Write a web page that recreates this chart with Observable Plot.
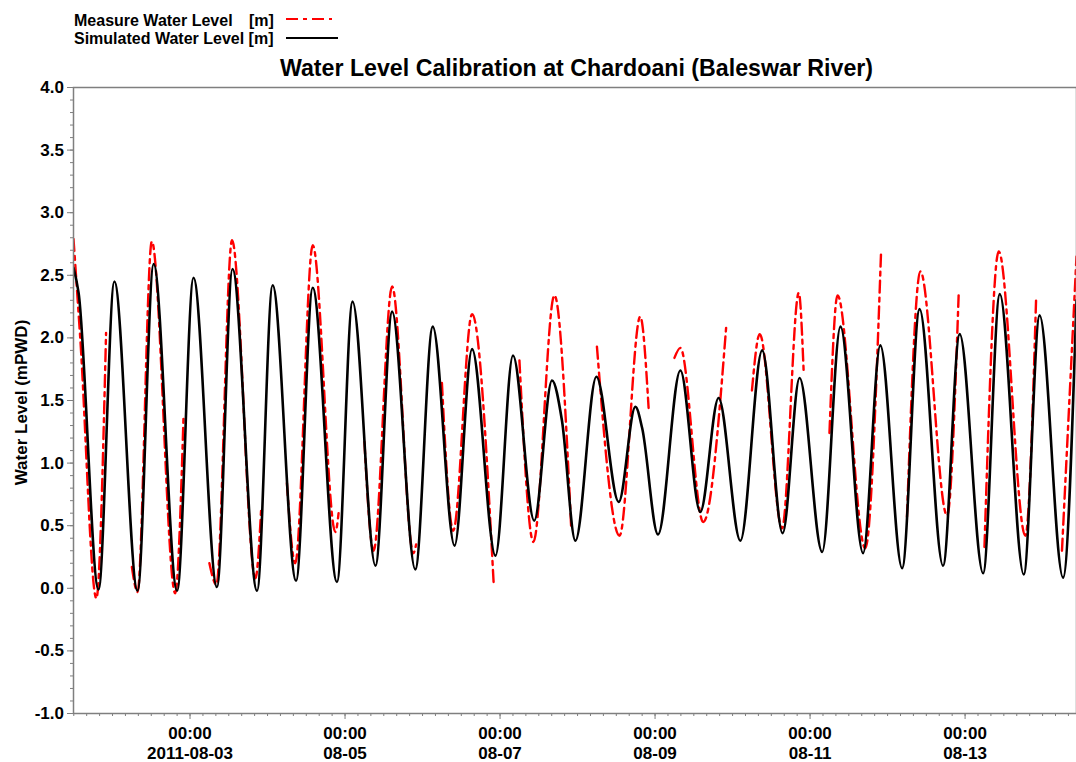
<!DOCTYPE html>
<html>
<head>
<meta charset="utf-8">
<script src="https://cdn.jsdelivr.net/npm/d3@7"></script>
<script src="https://cdn.jsdelivr.net/npm/@observablehq/plot@0.6"></script>
<style>
  html, body { margin: 0; padding: 0; background: #fff; }
  #chart { position: relative; width: 1076px; height: 762px; font-family: Arial, "Liberation Sans", Helvetica, sans-serif; }
  #header { display: block; }
  #header text { font-family: Arial, "Liberation Sans", Helvetica, sans-serif; font-weight: bold; fill: #000; }
  #plot svg { display: block; overflow: visible; }
</style>
</head>
<body>
<div id="chart">
  <svg id="header" width="1076" height="83">
    <text x="74" y="25.5" font-size="16">Measure Water Level</text>
    <text x="249" y="25.5" font-size="16">[m]</text>
    <line x1="286" x2="332" y1="19" y2="19" stroke="#ff0000" stroke-width="2.2" stroke-dasharray="12,5,4,5"></line>
    <text x="74" y="44.3" font-size="16">Simulated Water Level [m]</text>
    <line x1="286" x2="338" y1="38" y2="38" stroke="#000" stroke-width="2.2"></line>
    <text x="576.5" y="76" font-size="23.2" text-anchor="middle">Water Level Calibration at Chardoani (Baleswar River)</text>
  </svg>
  <div id="plot"></div>
</div>
<script>
// Simulated water level (m PWD): high and low waters of the model run
const simTimes = [
  "2011-08-01T11:55", "2011-08-01T13:30", "2011-08-01T19:40", "2011-08-02T00:35",
  "2011-08-02T07:45", "2011-08-02T12:45", "2011-08-02T20:00", "2011-08-03T01:05",
  "2011-08-03T08:20", "2011-08-03T13:10", "2011-08-03T20:45", "2011-08-04T01:35",
  "2011-08-04T08:50", "2011-08-04T14:00", "2011-08-04T21:30", "2011-08-05T02:20",
  "2011-08-05T09:25", "2011-08-05T14:35", "2011-08-05T21:45", "2011-08-06T03:10",
  "2011-08-06T09:55", "2011-08-06T15:20", "2011-08-06T22:35", "2011-08-07T04:00",
  "2011-08-07T10:35", "2011-08-07T16:05", "2011-08-07T19:10", "2011-08-07T23:20",
  "2011-08-08T05:50", "2011-08-08T12:45", "2011-08-08T17:55", "2011-08-08T20:00",
  "2011-08-09T00:55", "2011-08-09T07:50", "2011-08-09T14:00", "2011-08-09T19:40",
  "2011-08-10T02:25", "2011-08-10T09:10", "2011-08-10T15:30", "2011-08-10T20:45",
  "2011-08-11T03:45", "2011-08-11T09:25", "2011-08-11T16:25", "2011-08-11T21:45",
  "2011-08-12T04:30", "2011-08-12T09:55", "2011-08-12T17:10", "2011-08-12T22:20",
  "2011-08-13T05:35", "2011-08-13T10:45", "2011-08-13T18:10", "2011-08-13T23:05",
  "2011-08-14T06:20", "2011-08-14T10:30"
];
const simLevels = [
  2.56, 2.36, -0.01, 2.45,
  -0.02, 2.59, -0.02, 2.48,
  0.01, 2.55, -0.02, 2.42,
  0.06, 2.40, 0.05, 2.29,
  0.18, 2.21, 0.15, 2.09,
  0.34, 1.91, 0.26, 1.86,
  0.54, 1.66, 1.34, 0.38,
  1.69, 0.69, 1.45, 1.28,
  0.43, 1.74, 0.61, 1.52,
  0.38, 1.90, 0.44, 1.68,
  0.29, 2.09, 0.28, 1.94,
  0.16, 2.23, 0.18, 2.03,
  0.12, 2.35, 0.11, 2.18,
  0.085, 2.30
];

// Measured water level (m PWD); null marks the night-time gaps in the record
const obsTimes = [
  "2011-08-01T11:55", "2011-08-01T14:00", "2011-08-01T19:00", "2011-08-01T22:00", "2011-08-02T02:00",
  "2011-08-02T06:00", "2011-08-02T07:45", "2011-08-02T12:10", "2011-08-02T19:25", "2011-08-02T22:00", "2011-08-03T02:00",
  "2011-08-03T06:00", "2011-08-03T08:10", "2011-08-03T13:00", "2011-08-03T20:15", "2011-08-03T22:00", "2011-08-04T02:00",
  "2011-08-04T06:00", "2011-08-04T08:35", "2011-08-04T14:00", "2011-08-04T21:00", "2011-08-04T22:00", "2011-08-05T02:00",
  "2011-08-05T06:00", "2011-08-05T08:50", "2011-08-05T14:35", "2011-08-05T21:10", "2011-08-05T22:00", "2011-08-06T02:00",
  "2011-08-06T06:00", "2011-08-06T09:30", "2011-08-06T15:20", "2011-08-06T22:00", "2011-08-07T02:00",
  "2011-08-07T06:00", "2011-08-07T10:20", "2011-08-07T16:50", "2011-08-07T22:00", "2011-08-08T02:00",
  "2011-08-08T06:00", "2011-08-08T13:00", "2011-08-08T19:25", "2011-08-08T22:00", "2011-08-09T02:00",
  "2011-08-09T06:00", "2011-08-09T07:50", "2011-08-09T14:55", "2011-08-09T22:00", "2011-08-10T02:00",
  "2011-08-10T06:00", "2011-08-10T08:25", "2011-08-10T15:20", "2011-08-10T20:30", "2011-08-10T22:00", "2011-08-11T02:00",
  "2011-08-11T06:00", "2011-08-11T08:30", "2011-08-11T17:05", "2011-08-11T22:00", "2011-08-12T02:00",
  "2011-08-12T06:00", "2011-08-12T10:10", "2011-08-12T18:25", "2011-08-12T22:00", "2011-08-13T02:00",
  "2011-08-13T06:00", "2011-08-13T10:25", "2011-08-13T18:40", "2011-08-13T22:00", "2011-08-14T02:00",
  "2011-08-14T06:00", "2011-08-14T10:30"
];
const obsLevels = [
  2.79, 2.00, -0.08, 2.04, null,
  0.17, -0.03, 2.77, -0.04, 1.38, null,
  0.20, 0.03, 2.78, 0.08, 0.62, null,
  0.84, 0.20, 2.74, 0.45, 0.60, null,
  1.17, 0.30, 2.41, 0.28, 0.35, null,
  1.64, 0.46, 2.19, 0.05, null,
  1.82, 0.37, 2.34, 0.50, null,
  1.93, 0.42, 2.17, 1.44, null,
  1.84, 1.92, 0.53, 2.08, null,
  1.58, 2.03, 0.48, 2.36, 1.74, null,
  1.24, 2.34, 0.32, 2.70, null,
  0.57, 2.53, 0.58, 2.34, null,
  0.33, 2.69, 0.42, 2.32, null,
  0.30, 2.65
];

// Axis ticks and labels
const yTicks = [-1.0, -0.5, 0.0, 0.5, 1.0, 1.5, 2.0, 2.5, 3.0, 3.5, 4.0];
const xTicks = ["2011-08-03T00:00", "2011-08-05T00:00", "2011-08-07T00:00", "2011-08-09T00:00", "2011-08-11T00:00", "2011-08-13T00:00"];
const xTimeLabels = ["00:00", "00:00", "00:00", "00:00", "00:00", "00:00"];
const xDateLabels = ["2011-08-03", "08-05", "08-07", "08-09", "08-11", "08-13"];
const xDomain = ["2011-08-01T11:55", "2011-08-14T10:30"];
const yDomain = [-1, 4];
const yLabel = "Water Level (mPWD)";

const utc = s => new Date(s + "Z");
const simDates = simTimes.map(utc);
const obsDates = obsTimes.map(utc);
const xTickDates = xTicks.map(utc);
const [x0, x1] = xDomain.map(utc);

const grey = "#7f7f7f";
const font = 'Arial, "Liberation Sans", Helvetica, sans-serif';

const yMinor = d3.range(-10, 41).map(k => k / 10);
const xMinor = d3.utcHour.every(4).range(x0, x1);

const plot = Plot.plot({
  width: 1076,
  height: 679,
  marginTop: 4,
  marginBottom: 49,
  marginLeft: 73,
  marginRight: 0,
  style: { fontFamily: font, fontWeight: "bold", fontSize: "17px", color: "#000", background: "transparent", overflow: "visible" },
  x: { type: "utc", domain: [x0, x1] },
  y: { domain: yDomain },
  marks: [
    // minor ticks
    Plot.axisY(yMinor, { tickSize: 3, tickFormat: () => "", stroke: grey, label: null }),
    Plot.axisX(xMinor, { tickSize: 3, tickFormat: () => "", stroke: grey, label: null }),
    // major ticks
    Plot.axisY(yTicks, { tickSize: 6, tickPadding: 3.5, tickFormat: d => d.toFixed(1), stroke: grey, fill: "#000", fontSize: 17, label: null }),
    Plot.axisX(xTickDates, { tickSize: 6, tickFormat: () => "", stroke: grey, label: null }),
    // two-line date labels under the major x ticks
    Plot.text(xTickDates, { x: d => d, text: (d, i) => xTimeLabels[i], frameAnchor: "bottom", dy: 20.5, lineAnchor: "middle", fontSize: 17, fill: "#000" }),
    Plot.text(xTickDates, { x: d => d, text: (d, i) => xDateLabels[i], frameAnchor: "bottom", dy: 40, lineAnchor: "middle", fontSize: 17, fill: "#000" }),
    // rotated y-axis title, centred on the frame
    Plot.text([yLabel], { frameAnchor: "left", textAnchor: "middle", rotate: -90, dx: -52, dy: 2, fontSize: 17, fill: "#000" }),
    // measured series (dash-dot, broken at gaps)
    Plot.line(d3.range(obsDates.length), {
      x: i => obsDates[i], y: i => obsLevels[i],
      curve: "monotone-x", stroke: "#ff0000", strokeWidth: 2.4,
      strokeDasharray: "12,5,4,5", clip: true
    }),
    // simulated series
    Plot.line(d3.range(simDates.length), {
      x: i => simDates[i], y: i => simLevels[i],
      curve: "monotone-x", stroke: "#000", strokeWidth: 2.6, clip: true
    }),
    Plot.frame({ stroke: grey, strokeWidth: 1.5 })
  ]
});

document.getElementById("plot").appendChild(plot);
</script>
</body>
</html>
